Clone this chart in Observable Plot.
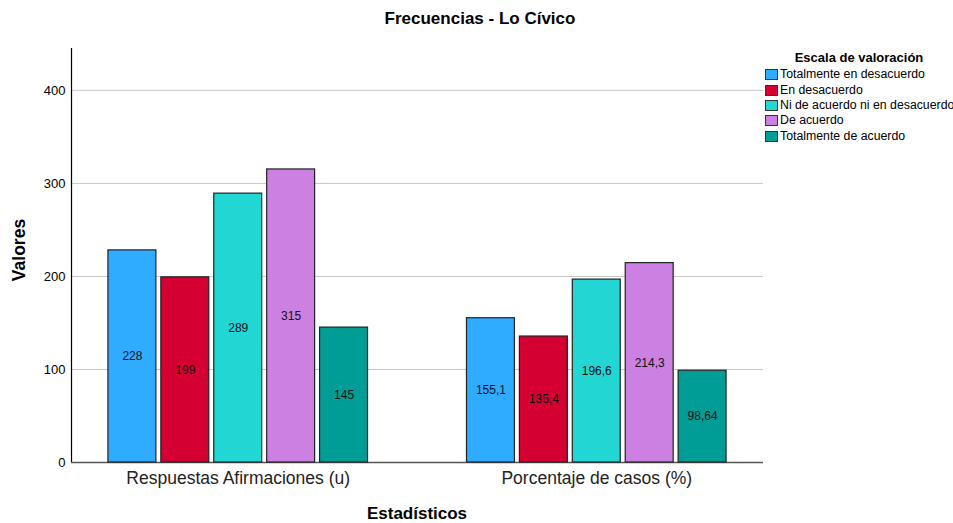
<!DOCTYPE html>
<html>
<head>
<meta charset="utf-8">
<script src="https://cdn.jsdelivr.net/npm/d3@7"></script>
<script src="https://cdn.jsdelivr.net/npm/@observablehq/plot@0.6"></script>
<style>
  body { margin: 0; background: #fff; font-family: "Liberation Sans", Arial, sans-serif; }
  #wrap { position: relative; width: 953px; height: 523px; overflow: hidden; }
  #wrap svg { position: absolute; left: 0; top: 0; background: transparent !important; }
  .abs { position: absolute; white-space: nowrap; color: #000; }
  #title { left: 0; width: 960px; top: 9px; text-align: center; font-weight: bold; font-size: 17px; }
  #ylab { left: 19px; top: 250px; font-weight: bold; font-size: 17.5px; transform: translate(-50%, -50%) rotate(-90deg); }
  #xlab { left: 417px; top: 505px; line-height: 18px; transform: translateX(-50%); font-weight: bold; font-size: 17px; }
  #legend { left: 765px; top: 50px; font-size: 12.3px; line-height: 15px; }
  #legend .lt { font-weight: bold; font-size: 13px; text-align: center; width: 188px; margin-bottom: 2px; }
  #legend .row { display: flex; align-items: center; height: 15.4px; }
  #legend .sw { width: 13px; height: 11px; border: 1px solid #333; box-sizing: border-box; margin-right: 2px; }
</style>
</head>
<body>
<div id="wrap"></div>
<script>
const groups = ["Respuestas Afirmaciones (u)", "Porcentaje de casos (%)"];
const categories = ["Totalmente en desacuerdo", "En desacuerdo", "Ni de acuerdo ni en desacuerdo", "De acuerdo", "Totalmente de acuerdo"];
const respuestas = [228, 199, 289, 315, 145];
const porcentaje = [155.1, 135.4, 196.6, 214.3, 98.64];
const colors = ["#2fabff", "#d50032", "#22d6d4", "#cc80e2", "#009c96"];
const yTicks = [0, 100, 200, 300, 400];
const yGrid = [100, 200, 300, 400];

const data = [];
groups.forEach((g, gi) => {
  const vals = gi === 0 ? respuestas : porcentaje;
  categories.forEach((c, ci) => data.push({group: g, cat: c, value: vals[ci]}));
});

const W = 953, H = 523;
const M = {top: 48, right: 190, bottom: 61, left: 71};
const yDomain = [0, 445];
const font = "'Liberation Sans', Arial, sans-serif";

const wrap = document.getElementById("wrap");

// Background: grid, axes
const bg = Plot.plot({
  width: W, height: H,
  marginTop: M.top, marginRight: M.right, marginBottom: M.bottom, marginLeft: M.left,
  style: {fontFamily: font, fontSize: "13px", color: "#000", background: "transparent"},
  x: {domain: [0, 1], axis: null},
  y: {domain: yDomain, ticks: yTicks, tickSize: 0, tickPadding: 6, label: null, tickFormat: d => String(d)},
  marks: [
    Plot.ruleY(yGrid, {stroke: "#c4c4c4", strokeWidth: 1}),
    Plot.ruleX([0], {y1: 0, y2: yDomain[1], stroke: "#000", strokeWidth: 1.2}),
    Plot.ruleY([0], {stroke: "#555", strokeWidth: 1.5})
  ]
});
wrap.appendChild(bg);

// Foreground: bars per group
const fg = Plot.plot({
  width: W, height: H,
  marginTop: M.top, marginRight: M.right, marginBottom: M.bottom, marginLeft: M.left,
  style: {fontFamily: font, fontSize: "17.5px", color: "#222", background: "transparent"},
  facet: {data: data, x: "group"},
  fx: {domain: groups, round: false, paddingInner: 0.276, paddingOuter: 0.103, label: null, tickSize: 0, tickPadding: 9},
  x: {domain: categories, round: false, paddingInner: 0.094, paddingOuter: 0, axis: null},
  y: {domain: yDomain, axis: null},
  color: {domain: categories, range: colors},
  marks: [
    Plot.barY(data, {x: "cat", y: "value", fill: "cat", stroke: "#222", strokeWidth: 1.2}),
    Plot.text(data, {x: "cat", y: d => d.value / 2, text: d => String(d.value).replace(".", ","), fill: "#111", fontSize: 12})
  ]
});
wrap.appendChild(fg);

function addDiv(id, html) {
  const d = document.createElement("div");
  d.id = id; d.className = "abs"; d.innerHTML = html;
  wrap.appendChild(d);
  return d;
}
addDiv("title", "Frecuencias - Lo Cívico");
addDiv("ylab", "Valores");
addDiv("xlab", "Estadísticos");
let lg = '<div class="lt">Escala de valoración</div>';
categories.forEach((c, i) => {
  lg += `<div class="row"><div class="sw" style="background:${colors[i]}"></div><span>${c}</span></div>`;
});
addDiv("legend", lg);
</script>
</body>
</html>
